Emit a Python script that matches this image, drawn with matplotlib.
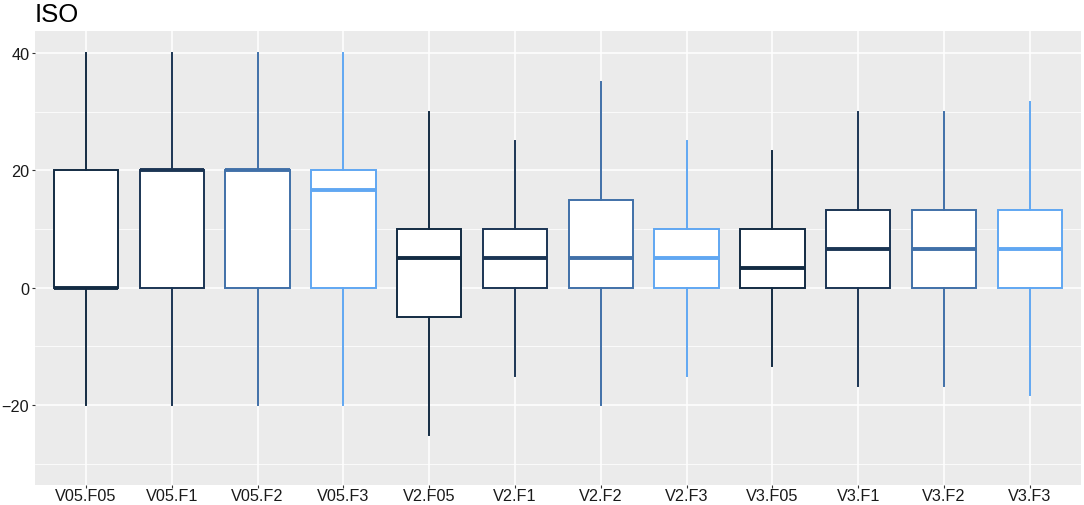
import matplotlib
matplotlib.use("Agg")
import matplotlib.pyplot as plt
from matplotlib.ticker import MultipleLocator

categories = ["V05.F05", "V05.F1", "V05.F2", "V05.F3",
              "V2.F05", "V2.F1", "V2.F2", "V2.F3",
              "V3.F05", "V3.F1", "V3.F2", "V3.F3"]
whisker_low = [-20, -20, -20, -20, -25, -15, -20, -15, -13.33, -16.67, -16.67, -18.33]
q1 = [0, 0, 0, 0, -5, 0, 0, 0, 0, 0, 0, 0]
medians = [0, 20, 20, 16.67, 5, 5, 5, 5, 3.33, 6.67, 6.67, 6.67]
q3 = [20, 20, 20, 20, 10, 10, 15, 10, 10, 13.33, 13.33, 13.33]
whisker_high = [40, 40, 40, 40, 30, 25, 35, 25, 23.33, 30, 30, 31.67]
f_level = ["F05", "F1", "F2", "F3"] * 3
palette = {"F05": "#132B43", "F1": "#1B3554", "F2": "#4070A8", "F3": "#60A7F2"}

plt.rcParams["font.family"] = ["Liberation Sans", "DejaVu Sans"]

fig = plt.figure(figsize=(10.84, 5.06), dpi=100)
ax = fig.add_axes([34.5 / 1084, 20.3 / 506, (1081.3 - 34.5) / 1084, (485.7 - 32) / 506])
ax.set_facecolor("#EBEBEB")

stats = []
for i, c in enumerate(categories):
    stats.append(dict(label=c, whislo=whisker_low[i], q1=q1[i], med=medians[i],
                      q3=q3[i], whishi=whisker_high[i], fliers=[]))

positions = list(range(len(categories)))
res = ax.bxp(stats, positions=positions, widths=0.75, patch_artist=True,
             showcaps=False, showfliers=False, zorder=3)

for i, f in enumerate(f_level):
    col = palette[f]
    box = res["boxes"][i]
    box.set_facecolor("white")
    box.set_edgecolor(col)
    box.set_linewidth(1.4)
    med = res["medians"][i]
    med.set_color(col)
    med.set_linewidth(2.8)
    med.set_solid_capstyle("butt")
    for w in res["whiskers"][2 * i:2 * i + 2]:
        w.set_color(col)
        w.set_linewidth(1.4)

ax.set_xlim(-0.6, len(categories) - 0.4)
ax.set_ylim(-33.55, 43.75)
ax.set_xticks(positions)
ax.set_xticklabels(categories)
ax.yaxis.set_minor_locator(MultipleLocator(10))
ax.set_yticks([-20, 0, 20, 40])
ax.set_yticklabels(["\u221220", "0", "20", "40"])

ax.grid(which="major", color="white", linewidth=1.1, zorder=0)
ax.grid(which="minor", axis="y", color="white", linewidth=0.55, zorder=0)
ax.set_axisbelow(True)
for s in ax.spines.values():
    s.set_visible(False)

ax.tick_params(axis="both", which="major", length=2.2, width=0.8, color="#333333",
               labelsize=11.7, labelcolor="#1a1a1a")
ax.tick_params(axis="x", which="major", pad=0.3)
ax.tick_params(axis="y", which="major", pad=1.5)
ax.tick_params(axis="y", which="minor", length=0)

fig.text(35 / 1084, 1 - 22 / 506, "ISO", fontsize=18.5, va="baseline", ha="left", color="black")

fig.savefig("out.png", dpi=100)
